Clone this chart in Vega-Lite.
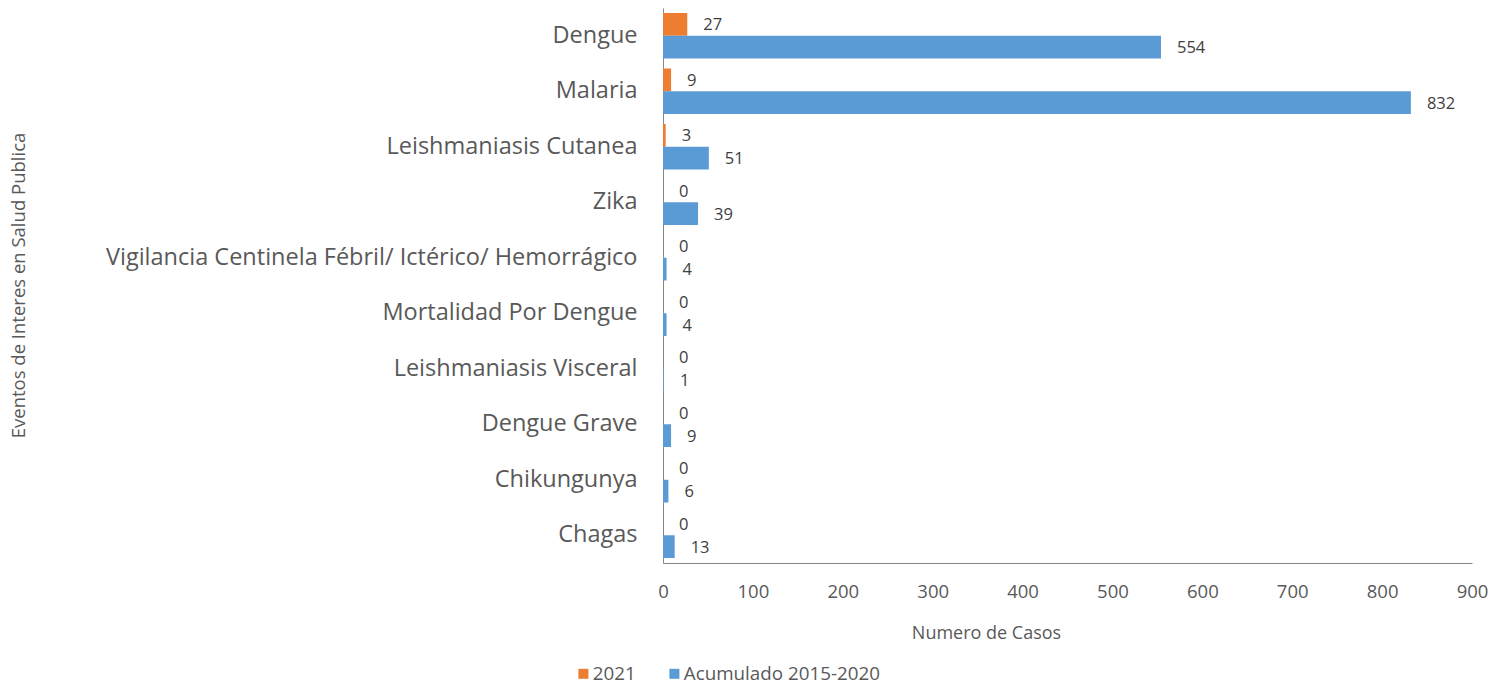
{
  "$schema": "https://vega.github.io/schema/vega-lite/v6.json",
  "autosize": "none",
  "width": 809,
  "height": 555,
  "padding": {"left": 663, "top": 8, "right": 37, "bottom": 123},
  "background": "white",
  "config": {
    "font": "Open Sans",
    "view": {"stroke": null},
    "axis": {"labelColor": "#595959", "titleColor": "#595959", "titleFontWeight": "normal", "domainColor": "#868686", "grid": false, "ticks": false},
    "legend": {"labelColor": "#595959"}
  },
  "data": {
    "values": [
      {"evento": "Dengue", "serie": "2021", "casos": 27},
      {"evento": "Dengue", "serie": "Acumulado 2015-2020", "casos": 554},
      {"evento": "Malaria", "serie": "2021", "casos": 9},
      {"evento": "Malaria", "serie": "Acumulado 2015-2020", "casos": 832},
      {"evento": "Leishmaniasis Cutanea", "serie": "2021", "casos": 3},
      {"evento": "Leishmaniasis Cutanea", "serie": "Acumulado 2015-2020", "casos": 51},
      {"evento": "Zika", "serie": "2021", "casos": 0},
      {"evento": "Zika", "serie": "Acumulado 2015-2020", "casos": 39},
      {"evento": "Vigilancia Centinela Fébril/ Ictérico/ Hemorrágico", "serie": "2021", "casos": 0},
      {"evento": "Vigilancia Centinela Fébril/ Ictérico/ Hemorrágico", "serie": "Acumulado 2015-2020", "casos": 4},
      {"evento": "Mortalidad Por Dengue", "serie": "2021", "casos": 0},
      {"evento": "Mortalidad Por Dengue", "serie": "Acumulado 2015-2020", "casos": 4},
      {"evento": "Leishmaniasis Visceral", "serie": "2021", "casos": 0},
      {"evento": "Leishmaniasis Visceral", "serie": "Acumulado 2015-2020", "casos": 1},
      {"evento": "Dengue Grave", "serie": "2021", "casos": 0},
      {"evento": "Dengue Grave", "serie": "Acumulado 2015-2020", "casos": 9},
      {"evento": "Chikungunya", "serie": "2021", "casos": 0},
      {"evento": "Chikungunya", "serie": "Acumulado 2015-2020", "casos": 6},
      {"evento": "Chagas", "serie": "2021", "casos": 0},
      {"evento": "Chagas", "serie": "Acumulado 2015-2020", "casos": 13}
    ]
  },
  "encoding": {
    "y": {
      "field": "evento", "type": "nominal", "sort": null,
      "scale": {"paddingInner": 0.18, "paddingOuter": 0.09},
      "axis": {"title": "Eventos de Interes en Salud Publica", "labelFontSize": 23.5, "labelPadding": 26, "labelLimit": 700,
        "titleFontSize": 18.5, "titleX": -645, "titleY": 277, "titleAngle": -90, "titleAlign": "center", "titleBaseline": "middle"}
    },
    "yOffset": {"field": "serie", "type": "nominal", "sort": ["2021", "Acumulado 2015-2020"], "scale": {"paddingInner": 0, "paddingOuter": 0}},
    "x": {
      "field": "casos", "type": "quantitative",
      "scale": {"domain": [0, 900], "nice": false},
      "axis": {"title": "Numero de Casos", "values": [0,100,200,300,400,500,600,700,800,900], "labelFlush": false, "labelFontSize": 18.5, "labelPadding": 19, "titleFontSize": 18, "titlePadding": 24, "titleX": 323, "titleAlign": "center"}
    }
  },
  "layer": [
    {
      "mark": {"type": "bar"},
      "encoding": {
        "color": {
          "field": "serie", "type": "nominal",
          "scale": {"domain": ["2021", "Acumulado 2015-2020"], "range": ["#ED7D31", "#5B9BD5"]},
          "legend": {"title": null, "orient": "none", "direction": "horizontal", "legendX": -89, "legendY": 656, "symbolType": "square", "symbolSize": 100, "symbolStrokeWidth": 0, "labelFontSize": 18.8, "labelLimit": 400, "columnPadding": 29, "labelOffset": 0}
        }
      }
    },
    {
      "mark": {"type": "text", "align": "left", "baseline": "middle", "dx": 16, "dy": 1, "fontSize": 16.5, "color": "#404040"},
      "encoding": {"text": {"field": "casos", "type": "quantitative"}}
    }
  ]
}
